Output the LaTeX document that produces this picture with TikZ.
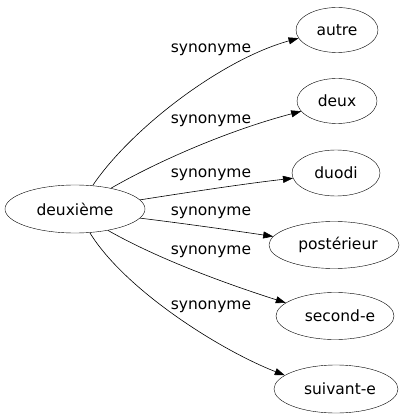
\documentclass[tikz,border=0pt]{standalone}
\usepackage{fontspec}
\setmainfont{DejaVu Sans}
\usetikzlibrary{shapes.geometric,arrows.meta}
\begin{document}
\begin{tikzpicture}[x=1pt,y=-1pt,
  term/.style={draw,ellipse,inner sep=0pt,font=\fontsize{15.5}{18}\selectfont},
  syn/.style={-{Triangle[length=10pt,width=7pt]},line width=0.6pt},
  lbl/.style={font=\fontsize{15.5}{18}\selectfont,inner sep=0pt}]
\useasboundingbox (0,0) rectangle (409,419);
\node[term,minimum width=140pt,minimum height=48pt] (d) at (75,209) {deuxième};
\node[term,minimum width=82pt,minimum height=45pt] (n1) at (337,30) {autre};
\node[term,minimum width=80pt,minimum height=45pt] (n2) at (337,101) {deux};
\node[term,minimum width=88pt,minimum height=46pt] (n3) at (336,173) {duodi};
\node[term,minimum width=130pt,minimum height=47pt] (n4) at (334,245) {\hspace*{8pt}postérieur};
\node[term,minimum width=118pt,minimum height=47pt] (n5) at (335,316) {\hspace*{10pt}second-e};
\node[term,minimum width=124pt,minimum height=48pt] (n6) at (336,389) {\hspace*{8pt}suivant-e};
\node[lbl] (l1) at (211,50) {synonyme};
\node[lbl] (l2) at (211,121) {synonyme};
\node[lbl] (l3) at (211,175) {synonyme};
\node[lbl] (l4) at (211,213) {synonyme};
\node[lbl] (l5) at (211,252) {synonyme};
\node[lbl] (l6) at (211,307) {synonyme};
\draw[syn] (d.53) .. controls (130,130) and (220,60) .. (n1.192);
\draw[syn] (d.30) .. controls (160,160) and (230,130) .. (n2.196);
\draw[syn] (d.8) .. controls (190,192) and (250,183) .. (n3.187);
\draw[syn] (d.-8) .. controls (180,223) and (230,230) .. (n4.172);
\draw[syn] (d.-33) .. controls (160,260) and (230,285) .. (n5.165);
\draw[syn] (d.-58) .. controls (125,290) and (220,350) .. (n6.165);
\end{tikzpicture}
\end{document}
